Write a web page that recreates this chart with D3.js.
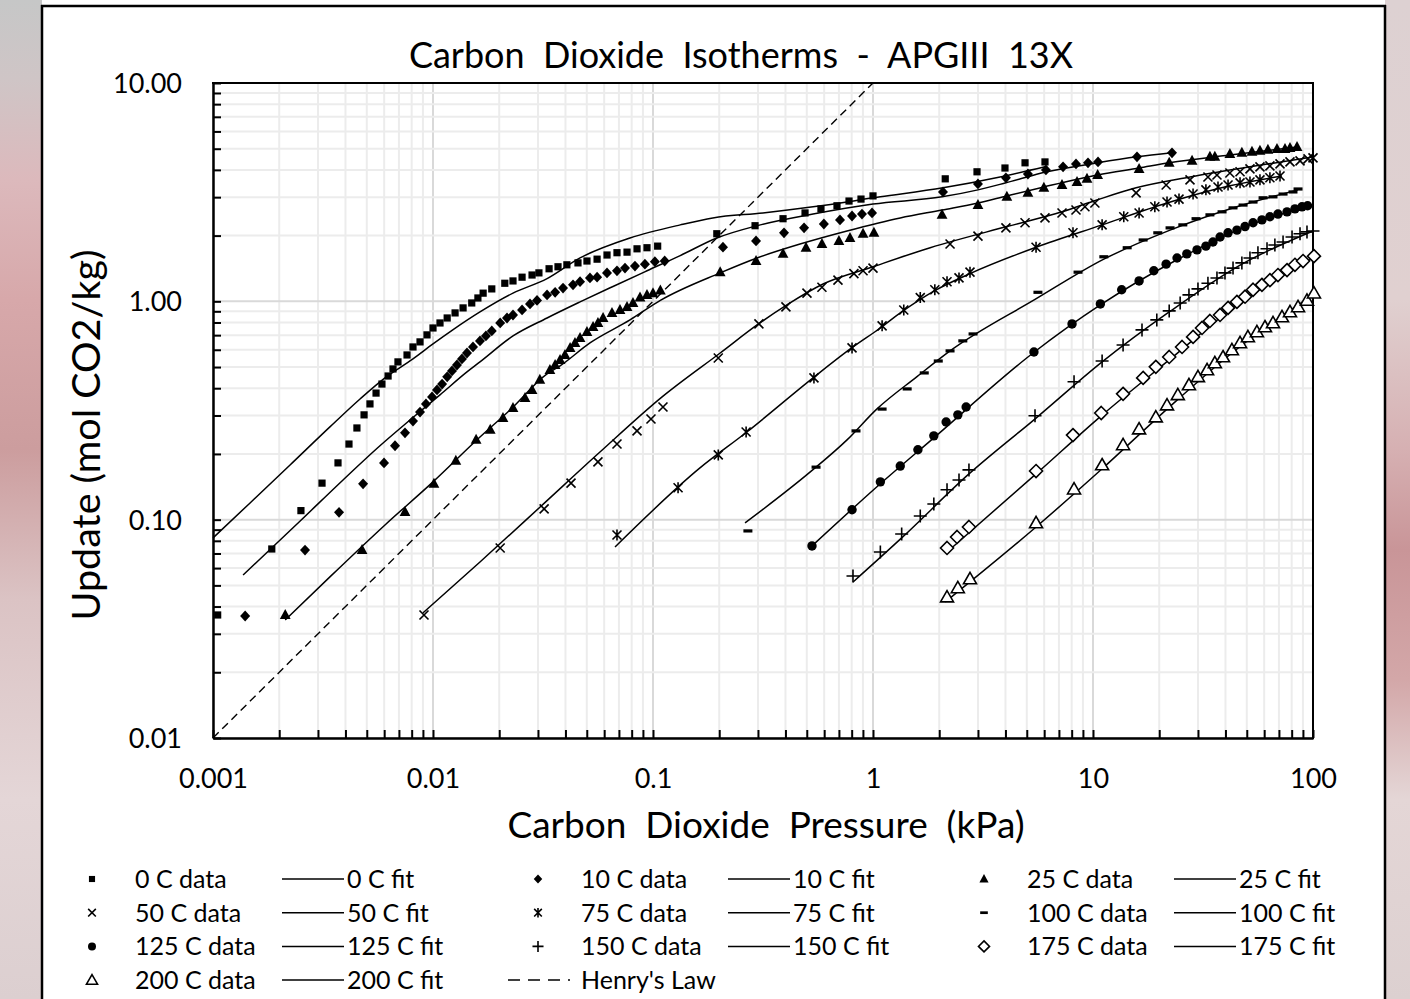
<!DOCTYPE html>
<html><head><meta charset="utf-8">
<script src="https://cdn.jsdelivr.net/npm/d3@7"></script>
<style>body{margin:0;background:#fff;} svg{display:block} text{font-family:Lato,"Open Sans",sans-serif;fill:#000;}</style>
</head><body><svg id="c" width="1410" height="999"></svg>
<script>
// ---------- DATA (P in kPa, q in mol/kg) ----------
const temps = [0,10,25,50,75,100,125,150,175,200];
const xTicks = [0.001,0.01,0.1,1,10,100];
const yTicks = [0.01,0.1,1,10];

const data0 = [[0.00105,0.0366],[0.00185,0.0734],[0.00251,0.110],[0.00313,0.147],[0.0037,0.182],[0.00415,0.222],[0.00451,0.263],[0.00486,0.302],[0.00517,0.339],[0.00551,0.380],[0.00586,0.418],[0.00625,0.455],[0.00658,0.490],[0.00693,0.528],[0.00762,0.568],[0.00811,0.618],[0.00873,0.652],[0.00939,0.702],[0.0100,0.755],[0.01076,0.796],[0.0116,0.839],[0.0126,0.885],[0.0137,0.933],[0.0150,0.983],[0.0160,1.036],[0.0169,1.09],[0.0185,1.14],[0.0212,1.21],[0.0231,1.24],[0.0254,1.29],[0.0282,1.32],[0.0303,1.35],[0.0337,1.41],[0.0370,1.44],[0.0406,1.47],[0.0456,1.50],[0.0501,1.53],[0.0557,1.56],[0.0618,1.63],[0.0686,1.67],[0.0762,1.68],[0.0846,1.74],[0.0939,1.76],[0.105,1.79],[0.195,2.04],[0.291,2.22],[0.390,2.39],[0.491,2.54],[0.580,2.65],[0.686,2.74],[0.778,2.88],[0.882,2.94],[1.00,3.04],[2.13,3.64],[2.97,3.92],[3.98,4.08],[4.91,4.31],[6.05,4.35]];
const data10 = [[0.0014,0.0362],[0.00262,0.0726],[0.00374,0.108],[0.00481,0.146],[0.00599,0.182],[0.00672,0.218],[0.00746,0.250],[0.00811,0.283],[0.00873,0.311],[0.00929,0.339],[0.0099,0.365],[0.01043,0.393],[0.0110,0.418],[0.0116,0.451],[0.0122,0.480],[0.01285,0.511],[0.01354,0.545],[0.01427,0.580],[0.0152,0.618],[0.01635,0.659],[0.0174,0.694],[0.0185,0.732],[0.0202,0.796],[0.0217,0.839],[0.0231,0.866],[0.0254,0.913],[0.0276,0.973],[0.0297,1.01],[0.0330,1.07],[0.0359,1.10],[0.0390,1.15],[0.0433,1.19],[0.0466,1.23],[0.0517,1.28],[0.0557,1.29],[0.0618,1.35],[0.0686,1.38],[0.0746,1.42],[0.0828,1.45],[0.0919,1.48],[0.102,1.52],[0.113,1.53],[0.208,1.77],[0.294,1.89],[0.394,2.06],[0.486,2.17],[0.598,2.26],[0.708,2.36],[0.803,2.46],[0.891,2.51],[0.990,2.54],[2.08,3.17],[3.00,3.45],[4.02,3.68],[5.06,3.83],[6.11,4.00],[7.31,4.13],[8.37,4.26],[9.49,4.31],[10.54,4.35],[15.85,4.59],[22.86,4.79]];
const data25 = [[0.00213,0.0366],[0.00476,0.0726],[0.00746,0.1085],[0.0101,0.146],[0.0127,0.186],[0.0157,0.232],[0.0182,0.258],[0.0208,0.292],[0.0231,0.325],[0.0262,0.361],[0.0282,0.393],[0.0306,0.437],[0.0340,0.485],[0.0359,0.511],[0.0378,0.539],[0.0398,0.568],[0.0420,0.612],[0.0442,0.645],[0.0466,0.680],[0.0501,0.724],[0.0534,0.763],[0.0562,0.796],[0.0593,0.839],[0.0651,0.885],[0.0708,0.913],[0.0762,0.943],[0.0811,0.983],[0.0873,1.04],[0.0939,1.07],[0.100,1.09],[0.108,1.12],[0.202,1.36],[0.294,1.53],[0.390,1.65],[0.496,1.76],[0.586,1.83],[0.700,1.89],[0.786,1.95],[0.901,2.04],[1.01,2.06],[2.06,2.49],[3.00,2.76],[4.06,3.01],[5.06,3.14],[5.98,3.31],[7.23,3.41],[8.46,3.52],[9.39,3.64],[10.5,3.79],[16.2,4.04],[22.2,4.31],[28.2,4.40],[34.0,4.59],[35.8,4.59],[41.9,4.73],[47.5,4.79],[52.8,4.84],[57.4,4.89],[62.4,4.94],[68.6,4.99],[74.6,4.99],[78.6,5.04],[84.6,5.09]];
const data50 = [[0.0091,0.0366],[0.0202,0.0742],[0.0320,0.112],[0.0424,0.147],[0.0562,0.184],[0.0686,0.222],[0.0846,0.255],[0.0979,0.289],[0.111,0.328],[0.198,0.550],[0.303,0.788],[0.402,0.943],[0.501,1.09],[0.586,1.16],[0.693,1.25],[0.819,1.34],[0.901,1.38],[1.00,1.42],[2.24,1.83],[3.00,1.99],[4.02,2.17],[4.91,2.29],[6.05,2.41],[7.23,2.54],[8.37,2.62],[9.19,2.71],[10.2,2.82],[15.7,3.14],[21.5,3.41],[27.6,3.60],[33.3,3.71],[36.6,3.79],[41.9,3.87],[46.6,3.92],[51.7,4.04],[57.4,4.13],[63.7,4.17],[70.8,4.26],[78.6,4.35],[87.3,4.40],[94.9,4.49],[100,4.54]];
const data75 = [[0.0686,0.0851],[0.130,0.140],[0.198,0.198],[0.265,0.252],[0.539,0.446],[0.803,0.612],[1.10,0.772],[1.38,0.913],[1.64,1.04],[1.91,1.13],[2.17,1.23],[2.46,1.28],[2.76,1.36],[5.51,1.77],[8.11,2.06],[11.0,2.24],[13.8,2.44],[16.2,2.54],[19.1,2.71],[21.7,2.85],[24.6,2.94],[28.5,3.10],[32.6,3.24],[37.0,3.34],[41.1,3.41],[46.6,3.49],[51.7,3.52],[57.4,3.60],[63.7,3.68],[70.8,3.75]];
const data100 = [[0.270,0.0888],[0.551,0.174],[0.837,0.255],[1.10,0.321],[1.43,0.397],[1.71,0.470],[1.98,0.533],[2.24,0.593],[2.56,0.659],[2.85,0.709],[5.62,1.10],[8.55,1.36],[11.2,1.60],[14.3,1.76],[16.9,1.91],[19.7,2.06],[22.4,2.17],[25.6,2.24],[29.4,2.39],[34.0,2.49],[38.6,2.57],[43.3,2.68],[48.1,2.76],[53.4,2.85],[59.3,2.98],[65.8,3.01],[73.1,3.10],[81.1,3.17],[85.5,3.27]];
const data125 = [[0.528,0.0758],[0.803,0.111],[1.08,0.149],[1.33,0.176],[1.60,0.209],[1.89,0.242],[2.15,0.280],[2.43,0.302],[2.65,0.328],[5.39,0.586],[8.03,0.788],[10.8,0.973],[13.5,1.13],[16.2,1.24],[18.9,1.38],[21.5,1.48],[24.1,1.58],[26.7,1.65],[29.7,1.72],[32.6,1.79],[35.1,1.87],[37.8,1.97],[41.1,2.06],[45.1,2.12],[49.1,2.20],[53.4,2.29],[58.6,2.36],[63.7,2.44],[69.3,2.51],[76.2,2.57],[82.8,2.65],[89.1,2.71],[94.5,2.74]];
const data150 = [[0.811,0.0552],[1.08,0.0711],[1.35,0.0860],[1.64,0.104],[1.89,0.118],[2.17,0.137],[2.46,0.152],[2.73,0.169],[5.45,0.299],[8.20,0.428],[11.0,0.533],[13.7,0.631],[16.7,0.740],[19.5,0.822],[22.2,0.904],[24.9,0.983],[27.3,1.07],[30.0,1.14],[33.3,1.21],[36.6,1.28],[39.8,1.35],[43.3,1.42],[47.5,1.50],[51.7,1.58],[56.2,1.67],[61.8,1.74],[67.1,1.81],[73.1,1.87],[80.3,1.97],[87.3,2.04],[93.9,2.08],[100,2.10]];
const data175 = [[2.17,0.0742],[2.41,0.0833],[2.73,0.0926],[5.51,0.167],[8.11,0.244],[10.9,0.308],[13.7,0.377],[16.9,0.446],[19.3,0.501],[22.2,0.556],[25.4,0.618],[28.5,0.687],[31.3,0.755],[34.0,0.813],[37.8,0.866],[41.1,0.933],[45.1,0.994],[49.1,1.05],[53.4,1.13],[58.6,1.19],[63.7,1.25],[69.3,1.32],[76.2,1.39],[82.8,1.47],[90.1,1.53],[101,1.61]];
const data200 = [[2.17,0.0442],[2.43,0.0487],[2.76,0.0535],[5.51,0.0966],[8.20,0.138],[11.0,0.178],[13.7,0.220],[16.2,0.260],[19.3,0.295],[21.7,0.335],[24.3,0.373],[27.3,0.414],[30.0,0.451],[33.0,0.485],[35.8,0.522],[39.0,0.556],[42.8,0.599],[46.6,0.645],[50.6,0.687],[55.6,0.724],[60.5,0.763],[65.8,0.796],[72.3,0.848],[78.6,0.894],[85.5,0.943],[93.9,1.01],[101,1.09]];

const fit0 = [[0.001,0.0825],[0.00147,0.119],[0.00224,0.178],[0.0034,0.266],[0.00466,0.357],[0.00605,0.446],[0.00811,0.545],[0.01,0.638],[0.0123,0.740],[0.01635,0.894],[0.0231,1.09],[0.0330,1.27],[0.0466,1.58],[0.0786,1.95],[0.133,2.24],[0.187,2.41],[0.316,2.54],[0.534,2.71],[1.08,3.01],[2.08,3.31],[3.78,3.71],[6.05,4.13]];
const fit10 = [[0.00137,0.0558],[0.00249,0.0986],[0.0039,0.152],[0.00574,0.218],[0.00786,0.286],[0.01076,0.373],[0.01427,0.475],[0.01635,0.528],[0.0231,0.694],[0.0330,0.839],[0.0466,0.994],[0.0658,1.17],[0.0939,1.38],[0.133,1.62],[0.195,1.95],[0.297,2.22],[0.534,2.51],[1.0,2.79],[2.06,3.01],[3.00,3.24],[4.02,3.49],[6.18,3.92],[10.5,4.31],[15.85,4.59],[22.86,4.79]];
const fit25 = [[0.00213,0.0347],[0.0034,0.0547],[0.00605,0.0946],[0.01,0.149],[0.01635,0.239],[0.0224,0.318],[0.0330,0.465],[0.0378,0.506],[0.0517,0.645],[0.0786,0.822],[0.108,1.01],[0.202,1.35],[0.297,1.58],[0.466,1.83],[0.762,2.10],[1.33,2.41],[2.06,2.62],[3.00,2.82],[4.06,3.04],[5.98,3.34],[10.5,3.79],[16.2,4.08],[22.2,4.31],[41.9,4.68],[84.6,5.09]];
const fit50 = [[0.0090,0.0374],[0.01635,0.0640],[0.0306,0.114],[0.0574,0.204],[0.110,0.365],[0.202,0.580],[0.306,0.796],[0.406,0.963],[0.593,1.20],[1.0,1.44],[1.82,1.76],[4.06,2.20],[7.23,2.57],[10.4,2.91],[15.7,3.31],[27.6,3.71],[51.7,4.13],[100,4.59]];
const fit75 = [[0.0672,0.0750],[0.164,0.173],[0.267,0.252],[0.534,0.446],[0.811,0.618],[1.08,0.755],[1.33,0.885],[1.91,1.12],[2.76,1.34],[5.51,1.77],[11.0,2.24],[21.7,2.82],[41.9,3.38],[72.3,3.75]];
const fit100 = [[0.262,0.0966],[0.517,0.165],[0.762,0.232],[1.04,0.321],[1.58,0.451],[2.24,0.593],[5.45,1.02],[11.2,1.56],[22.4,2.12],[46.6,2.74],[85.5,3.24]];
const fit125 = [[0.528,0.0758],[1.08,0.146],[1.89,0.237],[5.34,0.580],[10.8,0.963],[24.1,1.55],[51.7,2.24],[93.9,2.71]];
const fit150 = [[0.811,0.0518],[1.35,0.0825],[2.73,0.162],[5.51,0.292],[11.0,0.528],[22.2,0.894],[47.5,1.48],[100,2.10]];
const fit175 = [[2.17,0.0711],[5.51,0.162],[10.9,0.299],[22.2,0.539],[45.1,0.963],[100,1.58]];
const fit200 = [[2.13,0.0420],[5.51,0.0926],[11.0,0.171],[21.7,0.321],[42.8,0.580],[100,1.07]];
const henry = [[0.001,0.01],[1,10]];

const dataSets = [data0,data10,data25,data50,data75,data100,data125,data150,data175,data200];
const fitSets  = [fit0,fit10,fit25,fit50,fit75,fit100,fit125,fit150,fit175,fit200];
const markerTypes = ["square","diamond","triangle","times","asterisk","dash","circle","plus","odiamond","otriangle"];

// ---------- DRAW ----------
const svg = d3.select("#c");
const defs = svg.append("defs");
function grad(id, stops){
  const g = defs.append("linearGradient").attr("id",id).attr("x1",0).attr("y1",0).attr("x2",0).attr("y2",1);
  stops.forEach(s => g.append("stop").attr("offset",s[0]).attr("stop-color",s[1]));
}
grad("gl", [[0,"#c6c7c7"],[0.08,"#cfc5c6"],[0.18,"#dcb9bc"],[0.3,"#d7a8aa"],[0.45,"#cc9d9e"],[0.6,"#dbc3c4"],[0.8,"#e4d6d7"],[1,"#dccfd0"]]);
grad("gr", [[0,"#ddd1d2"],[0.3,"#e0d0d0"],[0.45,"#d6b0b2"],[0.55,"#c99598"],[0.68,"#d3a7a8"],[0.8,"#e4d6d6"],[1,"#dcd0d0"]]);
svg.append("rect").attr("x",0).attr("y",0).attr("width",43).attr("height",999).attr("fill","url(#gl)");
svg.append("rect").attr("x",1385).attr("y",0).attr("width",25).attr("height",999).attr("fill","url(#gr)");
svg.append("rect").attr("x",42).attr("y",0).attr("width",1343).attr("height",999).attr("fill","#fff");
svg.append("line").attr("x1",42).attr("x2",42).attr("y1",5).attr("y2",999).attr("stroke","#000").attr("stroke-width",2.5);
svg.append("line").attr("x1",1385).attr("x2",1385).attr("y1",5).attr("y2",999).attr("stroke","#000").attr("stroke-width",2.5);
svg.append("line").attr("x1",41).attr("x2",1386).attr("y1",6).attr("y2",6).attr("stroke","#000").attr("stroke-width",2.5);

const x = d3.scaleLog().domain([0.001,100]).range([213,1313]);
const y = d3.scaleLog().domain([0.01,10]).range([738,83]);

function allTicks(lo, hi){
  const out=[];
  for(let e=Math.round(Math.log10(lo)); e<Math.round(Math.log10(hi)); e++)
    for(let m=1;m<10;m++) out.push(+(m*Math.pow(10,e)).toPrecision(3));
  out.push(hi); return out;
}
const xAll = allTicks(0.001,100), yAll = allTicks(0.01,10);
const isMajor = v => Math.abs(Math.log10(v) - Math.round(Math.log10(v))) < 1e-6;

const grid = svg.append("g");
xAll.forEach(v => grid.append("line").attr("x1",x(v)).attr("x2",x(v)).attr("y1",83).attr("y2",738)
  .attr("stroke", isMajor(v) ? "#d9d9d9" : "#ececec").attr("stroke-width", 2));
yAll.forEach(v => grid.append("line").attr("y1",y(v)).attr("y2",y(v)).attr("x1",213).attr("x2",1313)
  .attr("stroke", isMajor(v) ? "#d9d9d9" : "#ececec").attr("stroke-width", 2));

// frame top/right
svg.append("line").attr("x1",212).attr("x2",1314).attr("y1",83).attr("y2",83).attr("stroke","#000").attr("stroke-width",2);
svg.append("line").attr("x1",1313).attr("x2",1313).attr("y1",83).attr("y2",739).attr("stroke","#000").attr("stroke-width",2);

const plot = svg.append("g");
const line = d3.line().x(d=>x(d[0])).y(d=>y(d[1])).curve(d3.curveMonotoneX);
fitSets.forEach(f => plot.append("path").attr("d", line(f)).attr("fill","none").attr("stroke","#000").attr("stroke-width",1.5));
plot.append("path").attr("d", d3.line().x(d=>x(d[0])).y(d=>y(d[1]))(henry)).attr("fill","none")
  .attr("stroke","#000").attr("stroke-width",1.4).attr("stroke-dasharray","8,5");

function drawMarker(g, type, k){
  k = k || 1;
  const S = (s)=>s*k;
  switch(type){
    case "square": g.append("rect").attr("x",S(-3.6)).attr("y",S(-3.6)).attr("width",S(7.2)).attr("height",S(7.2)).attr("fill","#000"); break;
    case "diamond": g.append("path").attr("d",`M0,${S(-5.4)}L${S(5)},0L0,${S(5.4)}L${S(-5)},0Z`).attr("fill","#000"); break;
    case "triangle": g.append("path").attr("d",`M0,${S(-6)}L${S(5.4)},${S(4)}L${S(-5.4)},${S(4)}Z`).attr("fill","#000"); break;
    case "times": g.append("path").attr("d",`M${S(-4.5)},${S(-4.5)}L${S(4.5)},${S(4.5)}M${S(-4.5)},${S(4.5)}L${S(4.5)},${S(-4.5)}`).attr("stroke","#000").attr("stroke-width",1.6).attr("fill","none"); break;
    case "asterisk": g.append("path").attr("d",`M${S(-4.5)},${S(-4.5)}L${S(4.5)},${S(4.5)}M${S(-4.5)},${S(4.5)}L${S(4.5)},${S(-4.5)}M0,${S(-5.5)}L0,${S(5.5)}`).attr("stroke","#000").attr("stroke-width",1.6).attr("fill","none"); break;
    case "dash": g.append("rect").attr("x",S(-4.5)).attr("y",S(-1.6)).attr("width",S(9)).attr("height",S(3.2)).attr("fill","#000"); break;
    case "circle": g.append("circle").attr("r",S(4.7)).attr("fill","#000"); break;
    case "plus": g.append("path").attr("d",`M${S(-6.5)},0H${S(6.5)}M0,${S(-6.5)}V${S(6.5)}`).attr("stroke","#000").attr("stroke-width",1.6).attr("fill","none"); break;
    case "odiamond": g.append("path").attr("d",`M0,${S(-6.5)}L${S(6.5)},0L0,${S(6.5)}L${S(-6.5)},0Z`).attr("fill","#fff").attr("stroke","#000").attr("stroke-width",1.6); break;
    case "otriangle": g.append("path").attr("d",`M0,${S(-6.5)}L${S(6.5)},${S(4.8)}L${S(-6.5)},${S(4.8)}Z`).attr("fill","#fff").attr("stroke","#000").attr("stroke-width",1.6); break;
  }
}
dataSets.forEach((ds,i) => {
  const gs = plot.append("g");
  ds.forEach(d => {
    const g = gs.append("g").attr("transform",`translate(${x(d[0])},${y(d[1])})`);
    drawMarker(g, markerTypes[i]);
  });
});

// axes
const fmtY = d3.format(".2f");
const yAxis = d3.axisLeft(y).tickValues(yAll).tickSizeInner(-8).tickSizeOuter(0).tickPadding(31)
  .tickFormat(v => isMajor(v) ? fmtY(v) : "");
const xAxis = d3.axisBottom(x).tickValues(xAll).tickSizeInner(-8).tickSizeOuter(0).tickPadding(31)
  .tickFormat(v => isMajor(v) ? d3.format("~g")(v) : "");
const ya = svg.append("g").attr("transform","translate(213,0)").call(yAxis);
const xa = svg.append("g").attr("transform","translate(0,738)").call(xAxis);
[ya,xa].forEach(a => {
  a.select(".domain").attr("stroke","#000").attr("stroke-width",2.5);
  a.selectAll(".tick line").attr("stroke","#000").attr("stroke-width",2);
  a.selectAll(".tick text").attr("font-size",27).attr("font-family","Lato").attr("fill","#000");
});
ya.selectAll(".tick text").attr("dy","0.35em");

// titles
svg.append("text").attr("x",741).attr("y",68).attr("text-anchor","middle").attr("font-size",36)
  .style("white-space","pre").text("Carbon  Dioxide  Isotherms  -  APGIII  13X");
svg.append("text").attr("x",766).attr("y",838).attr("text-anchor","middle").attr("font-size",37)
  .style("white-space","pre").text("Carbon  Dioxide  Pressure  (kPa)");
svg.append("text").attr("transform","translate(100,435) rotate(-90)").attr("text-anchor","middle").attr("font-size",39.5)
  .text("Update (mol CO2/kg)");

// legend
const legendItems = [];
temps.forEach((t,i) => { legendItems.push({kind:"data",i,label:`${t} C data`}); legendItems.push({kind:"fit",i,label:`${t} C fit`}); });
legendItems.push({kind:"henry",label:"Henry's Law"});
const leg = svg.append("g");
legendItems.forEach((it,idx) => {
  const row = Math.floor(idx/6), col = idx%6, grp = Math.floor(col/2);
  const cy = 879 + row*33.7, off = grp*446;
  if(it.kind==="data"){
    const g = leg.append("g").attr("transform",`translate(${92+off},${cy})`);
    drawMarker(g, markerTypes[it.i], 0.85);
    leg.append("text").attr("x",135+off).attr("y",cy).attr("dy","0.36em").attr("font-size",25).text(it.label);
  } else if(it.kind==="fit"){
    leg.append("line").attr("x1",282+off).attr("x2",344+off).attr("y1",cy).attr("y2",cy).attr("stroke","#000").attr("stroke-width",1.5);
    leg.append("text").attr("x",347+off).attr("y",cy).attr("dy","0.36em").attr("font-size",25).text(it.label);
  } else {
    leg.append("line").attr("x1",508).attr("x2",570).attr("y1",cy).attr("y2",cy).attr("stroke","#000").attr("stroke-width",1.5).attr("stroke-dasharray","12,8");
    leg.append("text").attr("x",581).attr("y",cy).attr("dy","0.36em").attr("font-size",25).text(it.label);
  }
});
</script></body></html>
